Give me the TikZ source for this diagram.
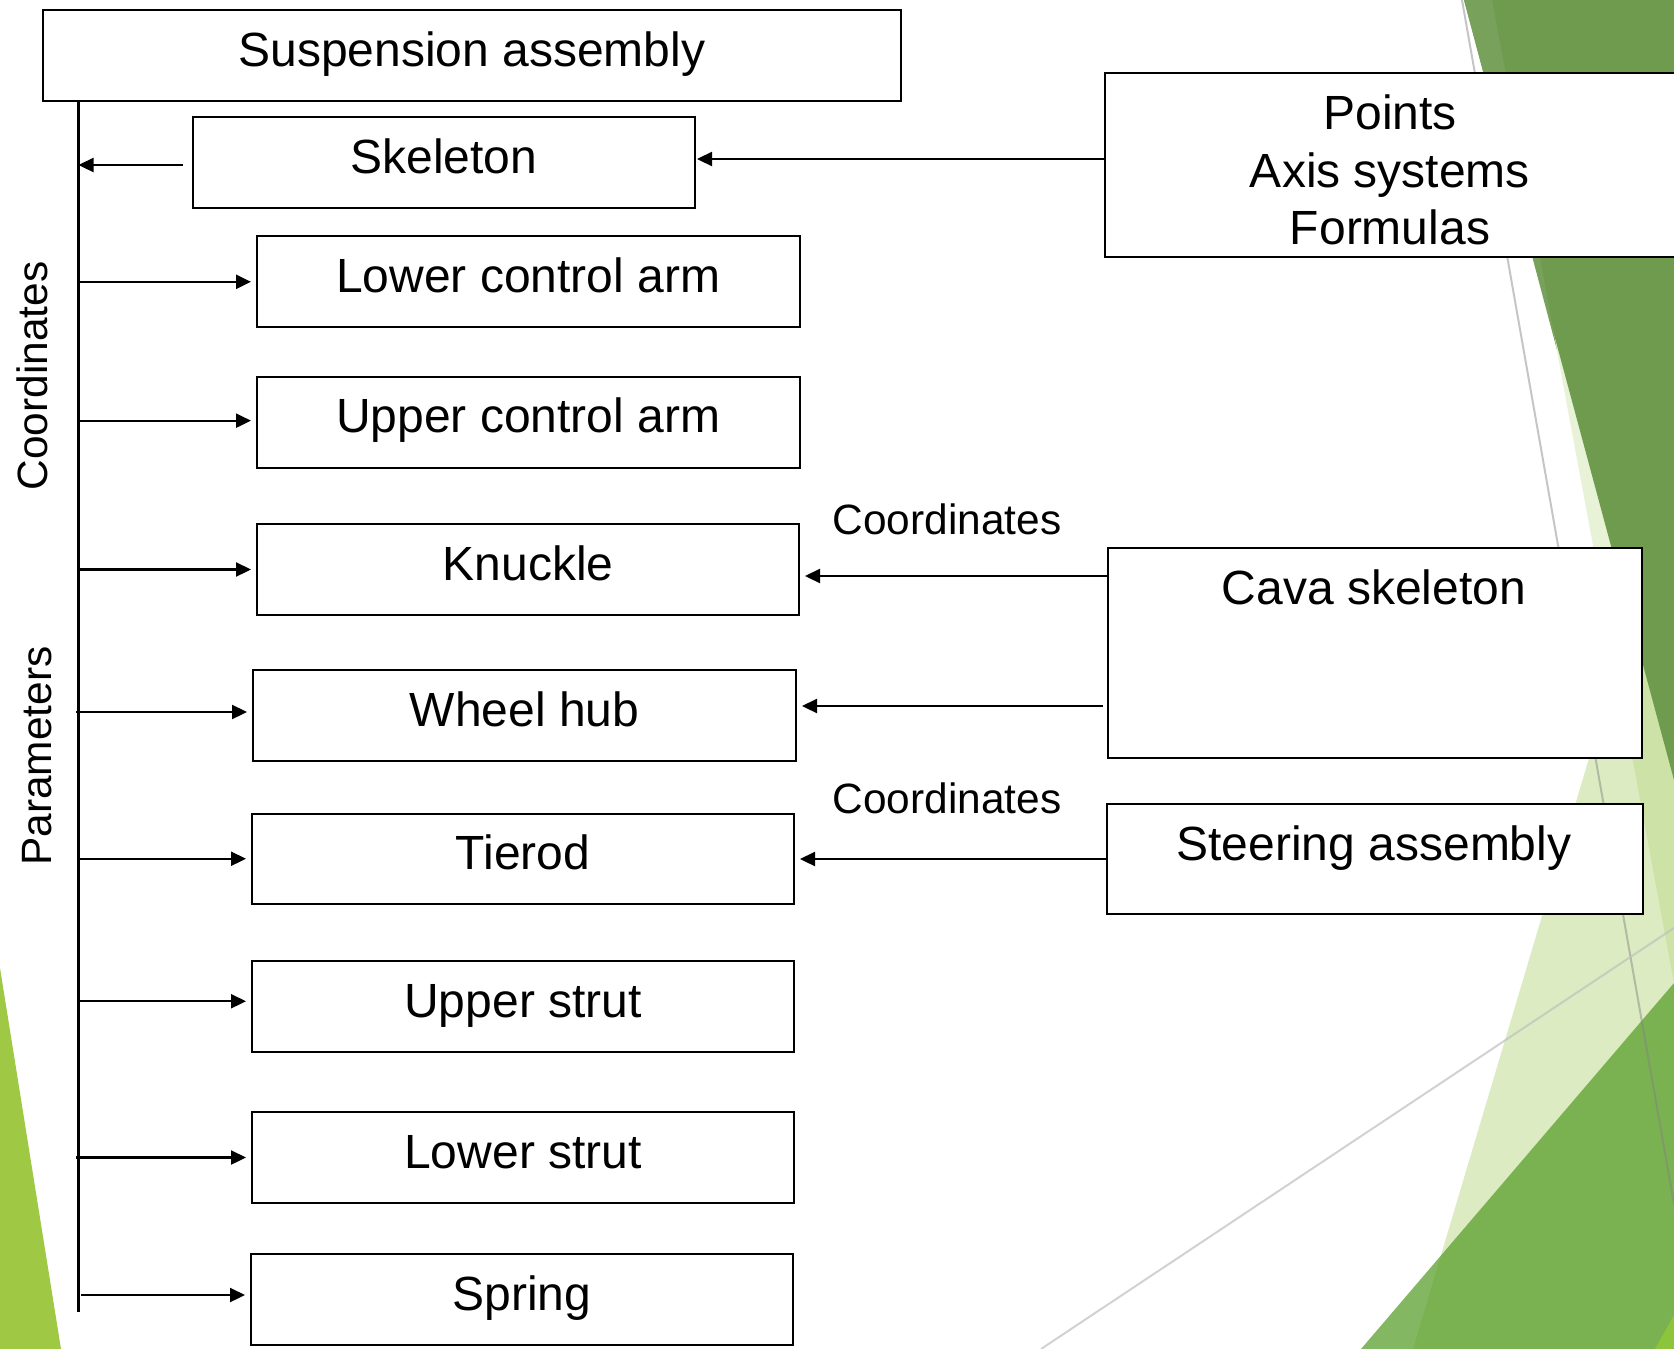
\documentclass[tikz,border=0pt]{standalone}
\usepackage{fontspec}
\setmainfont{Liberation Sans}
\usetikzlibrary{arrows.meta,calc}
\newcommand\bigfont{\fontsize{48}{57.6}\selectfont}
\newcommand\smallfont{\fontsize{42.4}{50}\selectfont}
\definecolor{gdark}{HTML}{6F9B4E}
\definecolor{gband}{HTML}{78A25B}
\definecolor{gpale}{HTML}{9BC84F}
\definecolor{gmid}{HTML}{589E29}
\definecolor{gyellow}{HTML}{8CC43C}
\definecolor{gleft}{HTML}{9FC945}
\begin{document}
\begin{tikzpicture}[x=1pt,y=-1pt,
  box/.style={draw=black, line width=2pt, fill=white, inner sep=0pt, anchor=north west, font=\bigfont, align=center, text height=35pt, text depth=13.5pt},
  frame/.style={draw=black, line width=2pt, fill=white, inner sep=0pt, anchor=north west},
  conn/.style={line width=2.3pt, -{Triangle[length=15pt,width=14pt]}},
  trunk/.style={line width=2.3pt},
  lbl/.style={font=\smallfont, inner sep=0pt},
  txt/.style={font=\bigfont, inner sep=0pt, align=center}]
\useasboundingbox (0,0) rectangle (1674,1349);
% ---- background (theme shapes) ----
\fill[white] (0,0) rectangle (1674,1349);
\fill[gpale, opacity=.35] (1413,1349) -- (1674,473) -- (1674,1349) -- cycle;
\fill[gpale, opacity=.23] (1492,0) -- (1674,0) -- (1674,983) -- cycle;
\fill[gdark] (1464,0) -- (1674,0) -- (1674,780) -- cycle;
\fill[gband] (1464,0) -- (1492,0) -- (1557,350) -- cycle;
\fill[gmid, opacity=.735] (1361,1349) -- (1674,983) -- (1674,1349) -- cycle;
\fill[gyellow] (1674,1315) -- (1655,1349) -- (1674,1349) -- cycle;
\fill[gleft] (0,968) -- (61,1349) -- (0,1349) -- cycle;
\draw[line width=2pt, color=black!50, opacity=.45] (1462,0) -- (1674,1204);
\draw[line width=2pt, color=black!25, opacity=.7] (1041,1349) -- (1674,928);
% ---- boxes ----
\node[box, minimum width=858.4, minimum height=91.9] (susp) at (41.6,8.5) {Suspension assembly};
\node[box, minimum width=502, minimum height=91] (skel) at (192,116) {Skeleton};
\node[box, minimum width=542.6, minimum height=90.6] (lca) at (256,235) {Lower control arm};
\node[box, minimum width=542.6, minimum height=90.7] (uca) at (256,375.8) {Upper control arm};
\node[box, minimum width=542, minimum height=91] (knuckle) at (256,523) {Knuckle};
\node[box, minimum width=543, minimum height=91] (hub) at (252,669) {Wheel hub};
\node[box, minimum width=542, minimum height=90.5] (tierod) at (251,812.5) {Tierod};
\node[box, minimum width=542, minimum height=90.5] (ustrut) at (251,960) {Upper strut};
\node[box, minimum width=542, minimum height=91] (lstrut) at (251,1111) {Lower strut};
\node[box, minimum width=542, minimum height=91] (spring) at (250,1253) {Spring};
\node[frame, minimum width=586, minimum height=184] (points) at (1104,71.5) {};
\node[frame, minimum width=534, minimum height=210.4] (cava) at (1107,546.6) {};
\node[frame, minimum width=536, minimum height=110] (steer) at (1106,803) {};
\node[txt] (pointstxt) at (1390,170) {Points\\Axis systems\\Formulas};
\node[txt] (cavatxt) at (1374,587) {Cava skeleton};
\node[txt, anchor=base] (steertxt) at (1374,860) {Steering assembly};
% ---- labels ----
\node[lbl] (coordA) at (947,519) {Coordinates};
\node[lbl] (coordB) at (947,798.6) {Coordinates};
\node[lbl, rotate=90] (coordV) at (32,376) {Coordinates};
\node[lbl, rotate=90] (paramV) at (37.5,756) {Parameters};
% ---- trunk ----
\coordinate (t0) at (78.5,100.4);
\coordinate (t1) at (78.5,1312);
\draw[trunk] (t0) -- (t1);
% skeleton to trunk
\coordinate (s1) at ($(skel.west)+(-9,2.5)$);
\draw[conn] (s1) -- (s1 -| t0);
% trunk to parts
\coordinate (a1) at ($(lca.west)+(-5,0.5)$);
\coordinate (a2) at ($(uca.west)+(-5,-1.5)$);
\coordinate (a3) at ($(knuckle.west)+(-5,0)$);
\coordinate (a4) at ($(hub.west)+(-5,-3.5)$);
\coordinate (a5) at ($(tierod.west)+(-5,0)$);
\coordinate (a6) at ($(ustrut.west)+(-5,-5)$);
\coordinate (a7) at ($(lstrut.west)+(-5,0)$);
\coordinate (a8) at ($(spring.west)+(-5,-4.5)$);
\draw[conn] (a1 -| t0) -- (a1);
\draw[conn] (a2 -| t0) -- (a2);
\draw[conn] (a3 -| t0) -- (a3);
\draw[conn] ($(a4 -| t0)+(-2.5,0)$) -- (a4);
\draw[conn] (a5 -| t0) -- (a5);
\draw[conn] (a6 -| t0) -- (a6);
\draw[conn] ($(a7 -| t0)+(-2.5,0)$) -- (a7);
\draw[conn] ($(a8 -| t0)+(2.5,0)$) -- (a8);
% right side inputs
\coordinate (p1) at ($(points.west)+(0,-5.5)$);
\draw[conn, shorten >=1pt] (p1) -- (p1 -| skel.east);
\coordinate (c1) at ($(cava.north west)+(0,29.4)$);
\draw[conn, shorten >=5pt] (c1) -- (c1 -| knuckle.east);
\coordinate (c2) at ($(cava.north west)+(-4,159.4)$);
\draw[conn, shorten >=5pt] (c2) -- (c2 -| hub.east);
\draw[conn, shorten >=5pt] (steer.west) -- (steer.west -| tierod.east);
\end{tikzpicture}
\end{document}
